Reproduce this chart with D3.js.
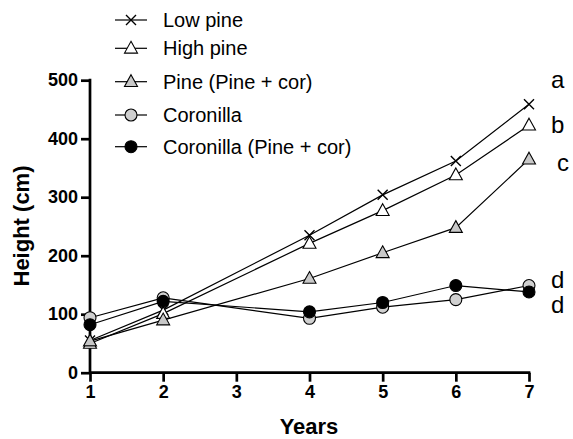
<!DOCTYPE html>
<html><head><meta charset="utf-8">
<script src="https://cdn.jsdelivr.net/npm/d3@7"></script>
<style>body{margin:0;background:#fff}svg{display:block}text{font-family:Arial,"Liberation Sans",sans-serif}</style>
</head><body>
<script>
const years = [1, 2, 4, 5, 6, 7];
const seriesNames = ["Low pine", "High pine", "Pine (Pine + cor)", "Coronilla", "Coronilla (Pine + cor)"];
const lowPine = [55, 107, 235, 304, 362, 459];
const highPine = [50, 101, 221, 277, 338, 423];
const pinePineCor = [54, 90, 161, 205, 248, 365];
const coronilla = [94, 128, 93, 112, 125, 149];
const coronillaPineCor = [82, 122, 104, 120, 149, 138];
const xTicks = [1, 2, 3, 4, 5, 6, 7];
const yTicks = [0, 100, 200, 300, 400, 500];
const sigLetters = ["a", "b", "c", "d", "d"];
const sigValues = [486, 409, 344, 145, 102];

const W = 573, H = 439;
const FONT = "Arial, 'Liberation Sans', sans-serif";
const svg = d3.select("body").append("svg").attr("width", W).attr("height", H);
const x = d3.scaleLinear().domain([1, 7]).range([90, 529]);
const y = d3.scaleLinear().domain([0, 500]).range([372.7, 80.2]);

const series = [
  {name: seriesNames[0], values: lowPine, marker: "x"},
  {name: seriesNames[1], values: highPine, marker: "tri", fill: "#fff"},
  {name: seriesNames[2], values: pinePineCor, marker: "tri", fill: "#c8c8c8"},
  {name: seriesNames[3], values: coronilla, marker: "circle", fill: "#d0d0d0"},
  {name: seriesNames[4], values: coronillaPineCor, marker: "circle", fill: "#000"}
];

function drawMarker(g, s, cx, cy) {
  if (s.marker === "x") {
    const r = 5;
    g.append("path").attr("d", `M${cx-r},${cy-r}L${cx+r},${cy+r}M${cx-r},${cy+r}L${cx+r},${cy-r}`)
      .attr("stroke", "#000").attr("stroke-width", 1.4);
  } else if (s.marker === "tri") {
    g.append("path").attr("d", `M${cx},${cy-7}L${cx+6.5},${cy+4.8}L${cx-6.5},${cy+4.8}Z`)
      .attr("fill", s.fill).attr("stroke", "#000").attr("stroke-width", 1.1);
  } else {
    g.append("circle").attr("cx", cx).attr("cy", cy).attr("r", 6)
      .attr("fill", s.fill).attr("stroke", "#000").attr("stroke-width", 1.1);
  }
}

// Axes
const xAxis = d3.axisBottom(x).tickValues(xTicks).tickSize(9).tickPadding(4).tickFormat(d3.format("d"));
const yAxis = d3.axisLeft(y).tickValues(yTicks).tickSize(9).tickPadding(3);
const gx = svg.append("g").attr("transform", `translate(0,${y(0)})`).call(xAxis);
const gy = svg.append("g").attr("transform", `translate(${x(1)},0)`).call(yAxis);
[gx, gy].forEach(g => {
  g.attr("font-family", FONT).attr("font-size", 18);
  g.select(".domain").attr("stroke-width", 2.7).attr("stroke", "#000");
  g.selectAll(".tick line").attr("stroke-width", 2.7).attr("stroke", "#000");
  g.selectAll(".tick text").attr("font-size", 18).attr("font-weight", "bold").attr("fill", "#000");
});
gx.select(".domain").attr("d", `M${x(1)},0H${x(7)+1.35}`);
gy.select(".domain").attr("d", `M0,${y(0)+1.35}V${y(500)-1.35}`);

// Titles
svg.append("text").attr("x", 309).attr("y", 434).attr("text-anchor", "middle")
  .attr("font-size", 22).attr("font-weight", "bold").text("Years");
svg.append("text").attr("transform", "translate(28.5,226) rotate(-90)").attr("text-anchor", "middle")
  .attr("font-size", 22).attr("font-weight", "bold").text("Height (cm)");

// Lines + markers
const line = d3.line().x((d, i) => x(years[i])).y(d => y(d));
const plot = svg.append("g");
series.forEach(s => {
  plot.append("path").attr("d", line(s.values)).attr("fill", "none").attr("stroke", "#000").attr("stroke-width", 1.2);
});
series.forEach(s => {
  s.values.forEach((v, i) => drawMarker(plot, s, x(years[i]), y(v)));
});

// Significance letters
sigLetters.forEach((l, i) => {
  svg.append("text").attr("x", l === "c" ? 557 : 551).attr("y", y(sigValues[i]))
    .attr("font-size", 24).attr("fill", "#000").text(l);
});

// Legend
const legY = [20, 48.3, 81.7, 115, 146.7];
const leg = svg.append("g");
series.forEach((s, i) => {
  leg.append("line").attr("x1", 115).attr("x2", 147).attr("y1", legY[i]).attr("y2", legY[i])
    .attr("stroke", "#000").attr("stroke-width", 1.2);
  drawMarker(leg, s, 131, legY[i]);
  leg.append("text").attr("x", 163).attr("y", legY[i] + 6.8).attr("font-size", 20).text(s.name);
});
</script>
</body></html>
